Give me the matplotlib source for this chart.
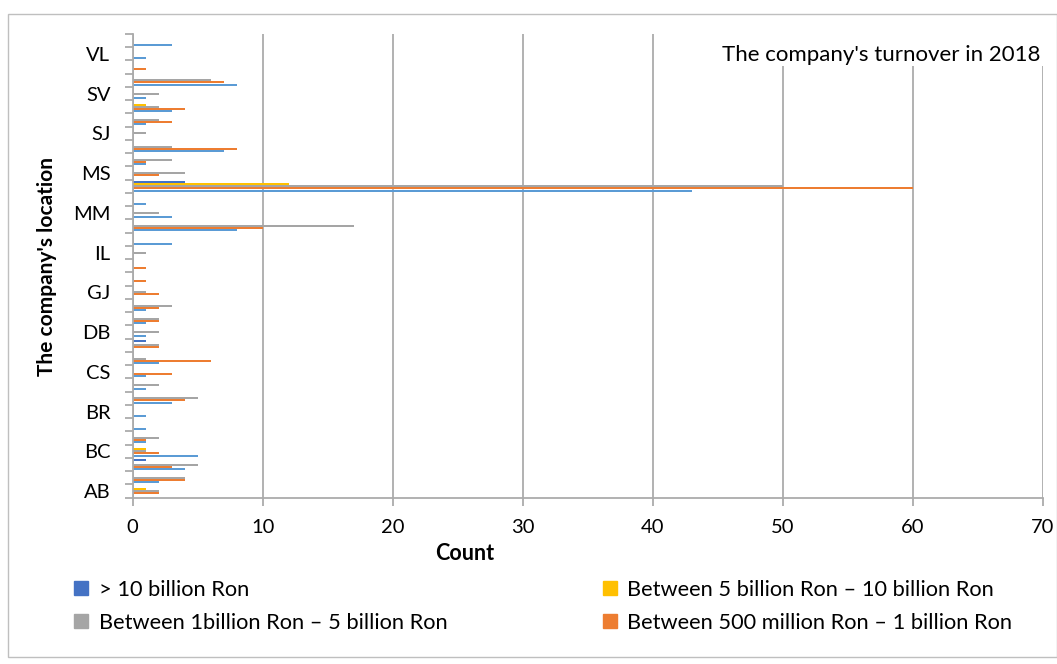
import numpy as np
import matplotlib.pyplot as plt
from matplotlib.lines import Line2D
from matplotlib.patches import Rectangle

plt.rcParams['font.family'] = ['Lato', 'DejaVu Sans']

# counties, bottom to top; only every third one gets a label
locations = ['AB', 'AR', 'AG', 'BC', 'BH', 'BN', 'BR', 'BV', 'BZ', 'CS',
             'CJ', 'CT', 'DB', 'DJ', 'GL', 'GJ', 'HR', 'HD', 'IL', 'IS',
             'IF', 'MM', 'MH', 'B', 'MS', 'NT', 'PH', 'SJ', 'SM', 'SB',
             'SV', 'TM', 'TL', 'VL', 'VS']

over_10bn = [0, 0, 1, 0, 0, 0, 0, 0, 0, 0, 0, 1, 0, 0, 0, 0, 0, 0,
             0, 0, 0, 0, 0, 4, 0, 0, 0, 0, 0, 0, 0, 0, 0, 0, 0]
bn_5_to_10 = [1, 0, 0, 1, 0, 0, 0, 0, 0, 0, 0, 0, 0, 0, 0, 0, 0, 0,
              0, 0, 0, 0, 0, 12, 0, 0, 0, 0, 0, 1, 0, 0, 0, 0, 0]
bn_1_to_5 = [2, 4, 5, 1, 2, 0, 0, 5, 2, 0, 1, 2, 2, 2, 3, 1, 0, 0,
             1, 0, 17, 2, 0, 50, 4, 3, 3, 1, 2, 2, 2, 6, 0, 0, 0]
mn_500_to_bn_1 = [2, 4, 3, 2, 1, 0, 0, 4, 0, 3, 6, 2, 0, 2, 2, 2, 1, 1,
                  0, 0, 10, 0, 0, 60, 2, 1, 8, 0, 3, 4, 0, 7, 1, 0, 0]
under_500mn = [0, 2, 4, 5, 1, 1, 1, 3, 1, 1, 2, 0, 1, 1, 1, 0, 0, 0,
               0, 3, 8, 3, 1, 43, 0, 1, 7, 0, 1, 3, 1, 8, 0, 1, 3]

series = [
    (over_10bn, '#4472C4', '> 10 billion Ron', 0.32),
    (bn_5_to_10, '#FFC000', 'Between 5 billion Ron \u2013 10 billion Ron', 0.16),
    (bn_1_to_5, '#A5A5A5', 'Between 1billion Ron \u2013 5 billion Ron', 0.0),
    (mn_500_to_bn_1, '#ED7D31', 'Between 500 million Ron \u2013 1 billion Ron', -0.16),
    (under_500mn, '#5B9BD5', None, -0.32),
]

fig = plt.figure(figsize=(10.57, 6.64), dpi=100)
ax = fig.add_axes([0.1255, 0.2505, 0.8613, 0.6983])

y = np.arange(len(locations))
for vals, color, label, off in series:
    ax.barh(y + off, vals, height=0.15, color=color, zorder=2)

ax.set_xlim(0, 70)
ax.set_ylim(-0.5, len(locations) - 0.5)
ax.set_xticks(np.arange(0, 71, 10))
ax.set_yticks(y[::3])
ax.set_yticklabels(locations[::3])
ax.set_yticks(np.arange(-0.5, len(locations), 1), minor=True)

grid_col = '#ABABAB'
ax.xaxis.grid(True, color=grid_col, lw=1.3, zorder=0)
ax.set_axisbelow(True)
for s in ['top', 'right']:
    ax.spines[s].set_visible(False)
for s in ['left', 'bottom']:
    ax.spines[s].set_color(grid_col)
    ax.spines[s].set_linewidth(1.3)

ax.tick_params(axis='y', which='major', length=0, pad=16, labelsize=14.5)
ax.tick_params(axis='y', which='minor', length=5.5, width=1.3, color=grid_col)
ax.tick_params(axis='x', length=5.5, width=1.3, color=grid_col, pad=9.5, labelsize=14.5)

# title box sits over the top of the gridlines
ax.add_patch(Rectangle((43.8, 32.1), 26.7, 2.6, facecolor='white',
                       edgecolor='none', zorder=3, clip_on=False))
ax.text(69.8, 32.9, "The company's turnover in 2018", ha='right', va='center',
        fontsize=16, zorder=4)

fig.text(465 / 1057, 1 - 553 / 664, 'Count', ha='center', va='center',
         fontsize=15.5, fontweight='bold')
fig.text(47 / 1057, 1 - 266 / 664, "The company's location", ha='center',
         va='center', rotation=90, fontsize=15, fontweight='bold')

order = [0, 2, 1, 3]
handles = [Line2D([], [], marker='s', ls='none', markersize=10,
                  color=series[i][1]) for i in order]
labels = [series[i][2] for i in order]
fig.legend(handles, labels, ncol=2, loc='upper left',
           bbox_to_anchor=(54 / 1057, 1 - 560 / 664), frameon=False,
           fontsize=15.7, handlelength=0.7, handletextpad=0.45,
           columnspacing=7.1, labelspacing=0.6)

# chart frame
fig.add_artist(Rectangle((8 / 1057, 7 / 664), 1049 / 1057, 643 / 664,
                         transform=fig.transFigure, fill=False,
                         edgecolor='#BFBFBF', lw=1))

fig.savefig('out.png', dpi=100)
